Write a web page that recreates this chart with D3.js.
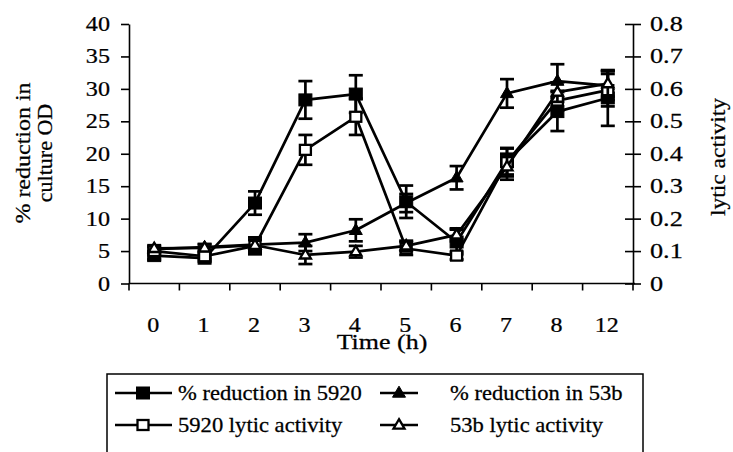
<!DOCTYPE html>
<html>
<head>
<meta charset="utf-8">
<script src="https://cdn.jsdelivr.net/npm/d3@7"></script>
<style>
  html, body { margin: 0; padding: 0; background: #fff; }
  svg { display: block; }
  text { font-family: "Liberation Serif", "Times New Roman", serif; fill: #000; stroke: #000; stroke-width: 0.25px; }
</style>
</head>
<body>
<svg id="chart" width="733" height="452"></svg>
<script>
// ---- data ----
const categories = ["0", "1", "2", "3", "4", "5", "6", "7", "8", "12"];
const leftTicks = [0, 5, 10, 15, 20, 25, 30, 35, 40];
const rightTicks = [0, 0.1, 0.2, 0.3, 0.4, 0.5, 0.6, 0.7, 0.8];

// % reduction in culture OD (left axis)
const reduction5920 = [4.3, 3.9, 12.4, 28.3, 29.2, 12.6, 6.4, 18.8, 26.5, 28.6];
const reduction5920Err = [0.6, 0.5, 1.8, 2.9, 2.9, 2.5, 1.9, 2.0, 3.0, 4.3];
const reduction53b = [5.3, 5.6, 6.0, 6.3, 8.2, 12.4, 16.3, 29.3, 31.2, 30.5];
const reduction53bErr = [0.4, 0.5, 1.1, 1.3, 1.7, 1.4, 1.8, 2.2, 2.6, 2.2];

// lytic activity (right axis)
const lytic5920 = [0.100, 0.084, 0.116, 0.412, 0.514, 0.108, 0.086, 0.374, 0.564, 0.596];
const lytic5920Err = [0.010, 0.008, 0.026, 0.046, 0.056, 0.020, 0.012, 0.044, 0.030, 0.050];
const lytic53b = [0.108, 0.110, 0.118, 0.088, 0.098, 0.116, 0.150, 0.360, 0.590, 0.616];
const lytic53bErr = [0.010, 0.010, 0.016, 0.028, 0.018, 0.016, 0.020, 0.040, 0.030, 0.040];

const legendLabels = ["% reduction in 5920", "% reduction in 53b", "5920 lytic activity", "53b lytic activity"];

// ---- layout ----
const svg = d3.select("#chart");
const plot = { left: 129, right: 633, top: 24, bottom: 283.5 };

const x = d3.scaleBand().domain(categories).range([plot.left, plot.right]).padding(0);
const cx = c => x(c) + x.bandwidth() / 2;
const yL = d3.scaleLinear().domain([0, 40]).range([plot.bottom, plot.top]);
const yR = d3.scaleLinear().domain([0, 0.8]).range([plot.bottom, plot.top]);

function stext(g, str, px, py, opts) {
  const o = Object.assign({ size: 20, sx: 1.15, anchor: "start", rotate: 0 }, opts || {});
  return g.append("text")
    .attr("transform", `translate(${px},${py}) rotate(${o.rotate}) scale(${o.sx},1)`)
    .attr("text-anchor", o.anchor)
    .style("font-size", o.size + "px")
    .text(str);
}

const axisStroke = 1.6;

// left axis
const gL = svg.append("g").attr("transform", `translate(${plot.left},0)`)
  .call(d3.axisLeft(yL).tickValues(leftTicks).tickSize(8).tickSizeOuter(0).tickFormat(""));
gL.selectAll("path, line").attr("stroke", "#000").attr("stroke-width", axisStroke);
leftTicks.forEach(t => stext(svg, String(t), 110, yL(t) + 7, { anchor: "end", size: 21, sx: 1.15 }));

// right axis (ticks cross the axis line)
const gR = svg.append("g").attr("transform", `translate(${plot.right},0)`)
  .call(d3.axisRight(yR).tickValues(rightTicks).tickSize(8).tickSizeOuter(0).tickFormat(""));
gR.selectAll("path, line").attr("stroke", "#000").attr("stroke-width", axisStroke);
gR.selectAll(".tick line").attr("x1", -8);
rightTicks.forEach(t => stext(svg, String(t), 650, yR(t) + 7, { anchor: "start", size: 21, sx: 1.25 }));

// x axis: line and ticks at category boundaries
const gX = svg.append("g");
gX.append("line").attr("x1", plot.left).attr("x2", plot.right + 2)
  .attr("y1", plot.bottom).attr("y2", plot.bottom)
  .attr("stroke", "#000").attr("stroke-width", axisStroke);
const bounds = categories.map(c => x(c)).concat([x(categories[categories.length - 1]) + x.bandwidth()]);
bounds.forEach(b => gX.append("line").attr("x1", b).attr("x2", b)
  .attr("y1", plot.bottom).attr("y2", plot.bottom + 7)
  .attr("stroke", "#000").attr("stroke-width", axisStroke));
categories.forEach(c => stext(svg, c, cx(c) - 1, 332, { anchor: "middle", size: 20, sx: 1.2 }));

// axis titles
stext(svg, "Time (h)", 382, 349, { anchor: "middle", size: 20, sx: 1.3 });
stext(svg, "% reduction in", 30, 153, { anchor: "middle", size: 20, sx: 1.2, rotate: -90 });
stext(svg, "culture OD", 52, 153, { anchor: "middle", size: 20, sx: 1.1, rotate: -90 });
stext(svg, "lytic activity", 725, 157, { anchor: "middle", size: 21, sx: 1.12, rotate: -90 });

// ---- series ----
const series = [
  { vals: reduction5920, err: reduction5920Err, y: yL, marker: "square", fill: "#000" },
  { vals: reduction53b, err: reduction53bErr, y: yL, marker: "triangle", fill: "#000" },
  { vals: lytic5920, err: lytic5920Err, y: yR, marker: "square", fill: "#fff" },
  { vals: lytic53b, err: lytic53bErr, y: yR, marker: "triangle", fill: "#fff" }
];

const lineW = 2.7;
const line = d3.line();

function drawMarker(g, type, fill, px, py) {
  const filled = fill === "#000";
  if (type === "square") {
    const w = filled ? 13 : 11, h = filled ? 12 : 10;
    g.append("rect").attr("x", px - w / 2).attr("y", py - h / 2)
      .attr("width", w).attr("height", h)
      .attr("fill", fill).attr("stroke", "#000").attr("stroke-width", filled ? 1 : 2.3);
  } else {
    const s = filled ? 13 : 11;
    const h = s * 0.85;
    const pts = [[px, py - h * 0.62], [px + s / 2, py + h * 0.38], [px - s / 2, py + h * 0.38]];
    g.append("path").attr("d", d3.line()(pts) + "Z")
      .attr("fill", fill).attr("stroke", "#000").attr("stroke-width", filled ? 1 : 2.3)
      .attr("stroke-linejoin", "miter");
  }
}

const gS = svg.append("g");
series.forEach(s => {
  const pts = categories.map((c, i) => [cx(c), s.y(s.vals[i])]);
  // error bars
  categories.forEach((c, i) => {
    const px = cx(c), y1 = s.y(s.vals[i] + s.err[i]), y0 = s.y(s.vals[i] - s.err[i]);
    gS.append("line").attr("x1", px).attr("x2", px).attr("y1", y1).attr("y2", y0)
      .attr("stroke", "#000").attr("stroke-width", lineW);
    [y0, y1].forEach(yy => gS.append("line").attr("x1", px - 7).attr("x2", px + 7)
      .attr("y1", yy).attr("y2", yy).attr("stroke", "#000").attr("stroke-width", lineW));
  });
  gS.append("path").attr("d", line(pts)).attr("fill", "none")
    .attr("stroke", "#000").attr("stroke-width", lineW).attr("stroke-linejoin", "round");
  pts.forEach(p => drawMarker(gS, s.marker, s.fill, p[0], p[1]));
});

// ---- legend ----
const gLeg = svg.append("g");
gLeg.append("rect").attr("x", 107).attr("y", 374).attr("width", 536).attr("height", 100)
  .attr("fill", "none").attr("stroke", "#000").attr("stroke-width", 1.5);
const legendItems = [
  { s: series[0], label: legendLabels[0], x1: 115, x2: 172, mx: 143, tx: 178, ry: 393 },
  { s: series[1], label: legendLabels[1], x1: 380, x2: 418, mx: 399, tx: 450, ry: 393 },
  { s: series[2], label: legendLabels[2], x1: 115, x2: 172, mx: 143, tx: 178, ry: 425 },
  { s: series[3], label: legendLabels[3], x1: 380, x2: 418, mx: 399, tx: 450, ry: 425 }
];
legendItems.forEach(it => {
  gLeg.append("line").attr("x1", it.x1).attr("x2", it.x2).attr("y1", it.ry).attr("y2", it.ry)
    .attr("stroke", "#000").attr("stroke-width", lineW);
  drawMarker(gLeg, it.s.marker, it.s.fill, it.mx, it.ry);
  stext(gLeg, it.label, it.tx, it.ry + 7, { anchor: "start", size: 20, sx: 1.13 });
});
</script>
</body>
</html>
